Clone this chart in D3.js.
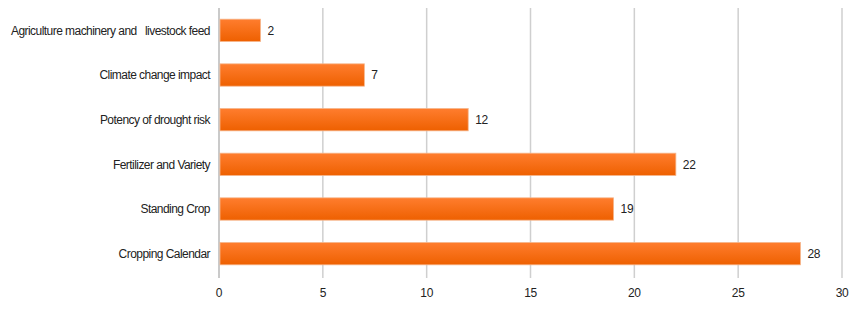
<!DOCTYPE html>
<html><head><meta charset="utf-8">
<script src="https://cdn.jsdelivr.net/npm/d3@7"></script>
<style>body{margin:0;background:#fff}svg{display:block}text{font-family:"Liberation Sans",Arial,sans-serif}</style>
</head><body>
<svg id="c" width="859" height="309"></svg>
<script>
const categories = ["Agriculture machinery and   livestock feed","Climate change impact","Potency of drought risk","Fertilizer and Variety","Standing Crop","Cropping Calendar"];
const values = [2,7,12,22,19,28];
const ticks = [0,5,10,15,20,25,30];

const svg = d3.select("#c");
const m = {l:219, r:17, t:8, b:33};
const W = 859, H = 309;
const x = d3.scaleLinear().domain([0,30]).range([m.l, W-m.r]);
const y = d3.scaleBand().domain(categories).range([m.t, H-m.b]).paddingInner(0.5).paddingOuter(0.25);

const defs = svg.append("defs");
const g = defs.append("linearGradient").attr("id","bg").attr("x1",0).attr("y1",0).attr("x2",0).attr("y2",1);
g.append("stop").attr("offset","0%").attr("stop-color","#ff7d2e");
g.append("stop").attr("offset","100%").attr("stop-color","#ee6000");

// grid
svg.append("g").selectAll("line").data(ticks.slice(1)).join("line")
  .attr("x1",d=>x(d)).attr("x2",d=>x(d)).attr("y1",m.t).attr("y2",H-m.b+2)
  .attr("stroke","#cfcfcf").attr("stroke-width",1.5);

// axis line
svg.append("line").attr("x1",x(0)).attr("x2",x(0)).attr("y1",m.t).attr("y2",H-m.b+2)
  .attr("stroke","#b8b8b8").attr("stroke-width",1.5);

// bars
svg.append("g").selectAll("rect").data(values).join("rect")
  .attr("x",x(0)+1).attr("y",(d,i)=>y(categories[i]))
  .attr("width",d=>x(d)-x(0)-1).attr("height",y.bandwidth())
  .attr("fill","url(#bg)").attr("stroke","#f6b68c").attr("stroke-width",0.8);

// value labels
svg.append("g").selectAll("text").data(values).join("text")
  .attr("x",d=>x(d)+7).attr("y",(d,i)=>y(categories[i])+y.bandwidth()/2)
  .attr("dy","0.35em").attr("font-size",12).attr("letter-spacing","-0.3px").attr("fill","#222").text(d=>d);

// category labels
svg.append("g").selectAll("text").data(categories).join("text")
  .attr("x",210).attr("y",d=>y(d)+y.bandwidth()/2).attr("dy","0.35em")
  .attr("text-anchor","end").attr("font-size",12).attr("letter-spacing","-0.55px").attr("fill","#222")
  .attr("xml:space","preserve").style("white-space","pre").text(d=>d);

// tick labels
svg.append("g").selectAll("text").data(ticks).join("text")
  .attr("x",d=>x(d)).attr("y",297).attr("text-anchor","middle")
  .attr("font-size",12).attr("letter-spacing","-0.3px").attr("fill","#222").text(d=>d);
</script>
</body></html>
